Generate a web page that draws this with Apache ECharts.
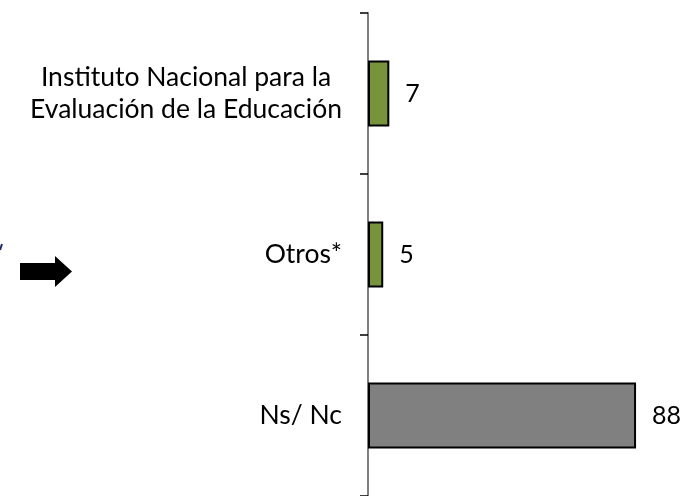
<!DOCTYPE html>
<html>
<head>
<meta charset="utf-8">
<script src="https://cdn.jsdelivr.net/npm/echarts@6/dist/echarts.min.js"></script>
<style>html,body{margin:0;padding:0;background:#fff;}#c{width:700px;height:496px;}</style>
</head>
<body>
<div id="c"></div>
<script>
var categories = ['Instituto Nacional para la\nEvaluación de la Educación', 'Otros*', 'Ns/ Nc'];
var values = [7, 5, 88];
var barColors = ['#77933C', '#77933C', '#808080'];

var FONT = 'Lato';
var FS = 26.5;
var VFS = 25;

function textWidth(s) {
  var cv = document.createElement('canvas').getContext('2d');
  cv.font = FS + 'px ' + FONT;
  return cv.measureText(s).width;
}
var lineBoxW = 0;
categories.forEach(function (c) {
  c.split('\n').forEach(function (s) { lineBoxW = Math.max(lineBoxW, textWidth(s)); });
});
lineBoxW = Math.ceil(lineBoxW);

var chart = echarts.init(document.getElementById('c'), null, {renderer: 'canvas'});
var option = {
  animation: false,
  backgroundColor: '#ffffff',
  grid: {left: 368, top: 13, width: 304.6, height: 486, containLabel: false},
  xAxis: {type: 'value', min: 0, max: 100, show: false},
  yAxis: {
    type: 'category',
    inverse: true,
    data: categories,
    axisLine: {show: true, lineStyle: {color: '#808080', width: 2}},
    axisTick: {show: true, length: 8, lineStyle: {color: '#000', width: 1.5}},
    axisLabel: {
      margin: 26,
      color: '#000',
      fontFamily: FONT,
      fontSize: FS,
      lineHeight: 32,
      formatter: function (v) {
        if (v.indexOf('\n') >= 0) {
          return v.split('\n').map(function (s) { return '{c|' + s + '}'; }).join('\n');
        }
        return v;
      },
      rich: {c: {fontFamily: FONT, fontSize: FS, lineHeight: 32, color: '#000', width: lineBoxW, align: 'center'}}
    }
  },
  series: [{
    type: 'bar',
    barWidth: 66,
    data: values.map(function (v, i) {
      return {value: v, itemStyle: {color: barColors[i]}};
    }),
    itemStyle: {borderColor: '#000', borderWidth: 2},
    label: {show: true, position: 'right', distance: 16, color: '#000', fontFamily: FONT, fontSize: VFS}
  }],
  graphic: [
    {type: 'polygon', shape: {points: [[20, 263], [55, 263], [55, 256], [72, 271.5], [55, 287], [55, 280], [20, 280]]}, style: {fill: '#000'}},
    {type: 'line', shape: {x1: 0, y1: 250, x2: 2, y2: 244}, style: {stroke: '#1F2A6B', lineWidth: 2}}
  ]
};
chart.setOption(option);
</script>
</body>
</html>
